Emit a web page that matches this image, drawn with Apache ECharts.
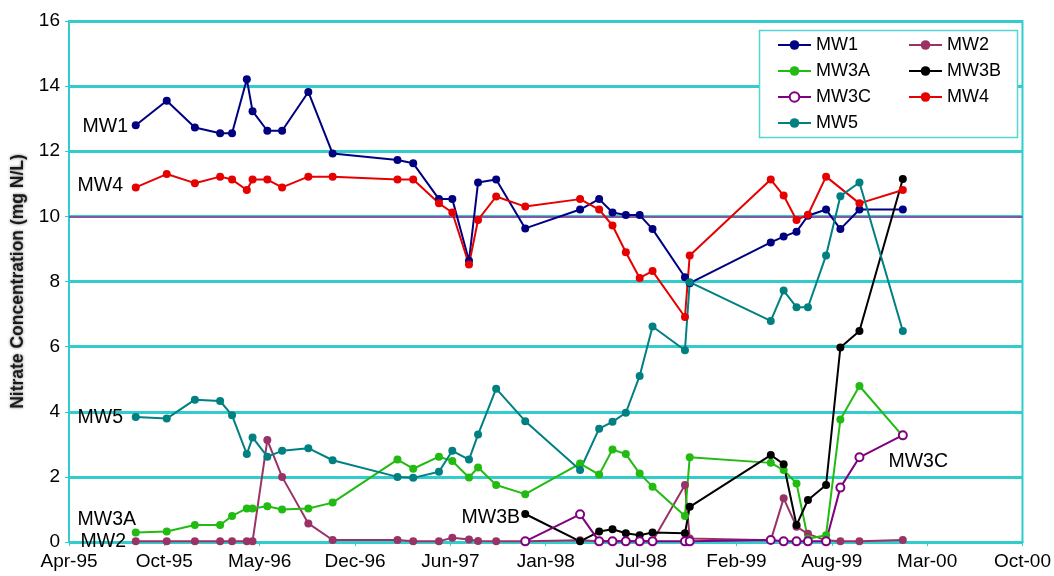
<!DOCTYPE html>
<html>
<head>
<meta charset="utf-8">
<script src="https://cdn.jsdelivr.net/npm/echarts@6/dist/echarts.min.js"></script>
<style>
  html, body { margin: 0; padding: 0; background: #fff; }
  #chart { width: 1054px; height: 576px; }
</style>
</head>
<body>
<div id="chart"></div>
<script>
// Sampling events (one entry per monitoring round)
const sampleDates = [
  '1995-08-29', '1995-11-02', '1995-12-31', '1996-02-22', '1996-03-18',
  '1996-04-18', '1996-04-30', '1996-05-31', '1996-07-01', '1996-08-25',
  '1996-10-15', '1997-02-28', '1997-04-02', '1997-05-26', '1997-06-23',
  '1997-07-28', '1997-08-16', '1997-09-23', '1997-11-23', '1998-03-18',
  '1998-04-27', '1998-05-25', '1998-06-22', '1998-07-21', '1998-08-17',
  '1998-10-24', '1998-11-03', '1999-04-22', '1999-05-19', '1999-06-15',
  '1999-07-09', '1999-08-16', '1999-09-15', '1999-10-25', '2000-01-24'
];

// Nitrate (mg N/L) per well; null = well not sampled that round
const mw1 = [12.80, 13.55, 12.73, 12.55, 12.55, 14.21, 13.23, 12.63, 12.63, 13.82,
  11.93, 11.73, 11.63, 10.53, 10.53, 8.64, 11.04, 11.13, 9.63, 10.21,
  10.53, 10.12, 10.04, 10.04, 9.61, 8.13, 7.95, 9.20, 9.38, 9.53,
  10.02, 10.21, 9.61, 10.21, 10.21];
const mw2 = [0.02, 0.02, 0.02, 0.02, 0.02, 0.02, 0.02, 3.13, 2.00, 0.57,
  0.06, 0.06, 0.02, 0.02, 0.13, 0.08, 0.03, 0.02, 0.02, 0.05,
  0.02, 0.02, 0.02, 0.02, 0.02, 1.75, 0.11, 0.05, 1.34, 0.47,
  0.25, 0.05, 0.02, 0.02, 0.06];
const mw3a = [0.29, 0.32, 0.52, 0.52, 0.80, 1.03, 1.03, 1.10, 1.00, 1.03,
  1.21, 2.53, 2.25, 2.62, 2.49, 1.98, 2.29, 1.75, 1.47, 2.41,
  2.07, 2.84, 2.70, 2.10, 1.70, 0.80, 2.60, 2.43, 2.21, 1.80,
  0.10, 0.21, 3.76, 4.79, 3.25];
const mw3b = [null, null, null, null, null, null, null, null, null, null,
  null, null, null, null, null, null, null, null, 0.86, 0.02,
  0.32, 0.39, 0.27, 0.21, 0.29, 0.27, 1.08, 2.67, 2.39, 0.52,
  1.29, 1.75, 5.97, 6.48, 11.15];
const mw3c = [null, null, null, null, null, null, null, null, null, null,
  null, null, null, null, null, null, null, null, 0.02, 0.85,
  0.02, 0.02, 0.02, 0.02, 0.02, 0.02, 0.02, 0.06, 0.02, 0.02,
  0.02, 0.02, 1.67, 2.60, 3.28];
const mw4 = [10.89, 11.30, 11.02, 11.22, 11.13, 10.81, 11.13, 11.13, 10.89, 11.22,
  11.22, 11.13, 11.13, 10.40, 10.12, 8.52, 9.89, 10.61, 10.30, 10.53,
  10.21, 9.72, 8.90, 8.11, 8.32, 6.91, 8.80, 11.13, 10.64, 9.89,
  10.05, 11.22, null, 10.40, 10.81];
const mw5 = [3.84, 3.79, 4.37, 4.33, 3.89, 2.70, 3.21, 2.62, 2.80, 2.88,
  2.51, 2.00, 1.97, 2.16, 2.80, 2.53, 3.30, 4.71, 3.71, 2.21,
  3.48, 3.69, 3.97, 5.10, 6.62, 5.89, 7.98, 6.79, 7.72, 7.21,
  7.21, 8.80, 10.62, 11.04, 6.48];

// Drinking-water limit for nitrate (mg N/L)
const nitrateLimit = 10;

// Axis settings; dates are handled as spreadsheet serial day numbers
const xMin = 34800;      // Apr-95
const xMax = 36800;      // Oct-00
const xStep = 200;       // days between date ticks
const yMin = 0, yMax = 16, yStep = 2;

const MONTHS = ['Jan','Feb','Mar','Apr','May','Jun','Jul','Aug','Sep','Oct','Nov','Dec'];
function toSerial(s) {
  const [y, m, d] = s.split('-').map(Number);
  return Date.UTC(y, m - 1, d) / 86400000 + 25569;
}
function serialLabel(v) {
  const d = new Date((v - 25569) * 86400000);
  return MONTHS[d.getUTCMonth()] + '-' + String(d.getUTCFullYear()).slice(2);
}

const FONT = '"Liberation Sans", Arial, sans-serif';
const CYAN = '#33CCCC';

const wells = [
  { name: 'MW1',  values: mw1,  color: '#000080' },
  { name: 'MW2',  values: mw2,  color: '#993366' },
  { name: 'MW3A', values: mw3a, color: '#22BB11' },
  { name: 'MW3B', values: mw3b, color: '#000000' },
  { name: 'MW3C', values: mw3c, color: '#800080', hollow: true },
  { name: 'MW4',  values: mw4,  color: '#E60000' },
  { name: 'MW5',  values: mw5,  color: '#008080' }
];

const series = wells.map((w, k) => {
  const s = {
    name: w.name,
    type: 'line',
    data: sampleDates.map((d, i) => [toSerial(d), w.values[i]]),
    connectNulls: true,
    symbol: w.hollow ? 'emptyCircle' : 'circle',
    symbolSize: 8,
    showAllSymbol: true,
    lineStyle: { color: w.color, width: 2 },
    itemStyle: w.hollow
      ? { color: w.color, borderColor: w.color, borderWidth: 2 }
      : { color: w.color },
    emphasis: { disabled: true }
  };
  if (k === 0) {
    // nitrate limit line, drawn just under the 10 mg/L grid line
    s.markLine = {
      silent: true,
      z: 1,
      symbol: ['none', 'none'],
      label: { show: false },
      lineStyle: { color: '#993399', width: 1.5, type: 'solid' },
      data: [{ yAxis: nitrateLimit }]
    };
  }
  return s;
});

const legendCommon = {
  orient: 'vertical',
  top: 36,
  padding: 0,
  itemWidth: 33,
  itemHeight: 12,
  itemGap: 8,
  z: 20,
  textStyle: { fontFamily: FONT, fontSize: 18, color: '#000' }
};

const labelText = (txt, x, y) => ({
  type: 'text',
  x: x, y: y,
  z: 30,
  style: {
    text: txt,
    fill: '#000',
    font: '19.5px ' + FONT,
    textAlign: 'right',
    textVerticalAlign: 'middle'
  }
});

const chart = echarts.init(document.getElementById('chart'), null, { renderer: 'canvas' });
chart.setOption({
  animation: false,
  backgroundColor: '#fff',
  grid: {
    left: 69, right: 31, top: 21, bottom: 34,
    show: true, borderColor: CYAN, borderWidth: 2, backgroundColor: 'transparent'
  },
  xAxis: {
    type: 'value',
    min: xMin, max: xMax, interval: xStep,
    axisLine: { show: true, lineStyle: { color: CYAN, width: 2 } },
    axisTick: { show: true, length: 4, lineStyle: { color: CYAN, width: 1 } },
    splitLine: { show: false },
    axisLabel: {
      formatter: serialLabel, margin: 10,
      fontFamily: FONT, fontSize: 19, color: '#000'
    }
  },
  yAxis: {
    type: 'value',
    min: yMin, max: yMax, interval: yStep,
    name: 'Nitrate Concentration (mg N/L)',
    nameLocation: 'middle',
    nameGap: 42,
    nameTextStyle: {
      fontFamily: FONT, fontSize: 17.5, fontWeight: 'bold', color: '#1a1a1a',
      textShadowColor: 'rgba(0,0,0,0.55)', textShadowBlur: 3
    },
    axisLine: { show: true, lineStyle: { color: CYAN, width: 2 } },
    axisTick: { show: true, length: 4, lineStyle: { color: CYAN, width: 1 } },
    splitLine: { show: true, lineStyle: { color: CYAN, width: 3 } },
    axisLabel: { margin: 9, fontFamily: FONT, fontSize: 19, color: '#000' }
  },
  legend: [
    Object.assign({ data: ['MW1', 'MW3A', 'MW3C', 'MW5'], left: 777 }, legendCommon),
    Object.assign({ data: ['MW2', 'MW3B', 'MW4'], left: 908 }, legendCommon)
  ],
  graphic: [
    {
      type: 'rect', z: 10,
      shape: { x: 759.5, y: 30.5, width: 258, height: 107 },
      style: { fill: '#fff', stroke: '#55D4D4', lineWidth: 1.5 }
    },
    labelText('MW1', 128, 127),
    labelText('MW4', 123, 186),
    labelText('MW5', 123, 418),
    labelText('MW3A', 136, 520),
    labelText('MW2', 126, 542),
    labelText('MW3B', 520, 517.5),
    labelText('MW3C', 948, 462)
  ],
  series: series
});
</script>
</body>
</html>
